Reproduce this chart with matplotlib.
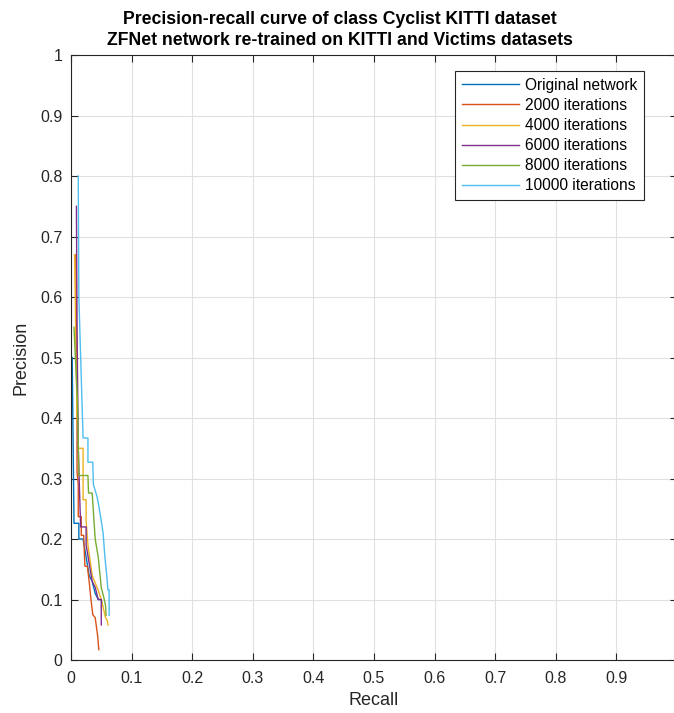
import matplotlib
matplotlib.use("Agg")
import matplotlib.pyplot as plt

plt.rcParams['font.family'] = ['Liberation Sans', 'DejaVu Sans']

# Recall / precision vertices
orig_r = [0.002, 0.005, 0.013, 0.013, 0.020, 0.025, 0.030, 0.035, 0.040, 0.045, 0.050, 0.052]
orig_p = [0.50, 0.226, 0.226, 0.20, 0.20, 0.17, 0.14, 0.13, 0.11, 0.10, 0.10, 0.09]

it2000_r = [0.008, 0.010, 0.010, 0.012, 0.012, 0.017, 0.017, 0.021, 0.022, 0.023, 0.027,
            0.030, 0.033, 0.036, 0.040, 0.044, 0.046]
it2000_p = [0.67, 0.45, 0.31, 0.29, 0.237, 0.237, 0.206, 0.206, 0.178, 0.155, 0.155,
            0.13, 0.10, 0.075, 0.07, 0.04, 0.017]

it4000_r = [0.006, 0.010, 0.012, 0.020, 0.020, 0.025, 0.025, 0.028, 0.035, 0.045, 0.050,
            0.057, 0.060, 0.061]
it4000_p = [0.67, 0.40, 0.35, 0.35, 0.265, 0.265, 0.23, 0.19, 0.14, 0.115, 0.10,
            0.07, 0.065, 0.058]

it6000_r = [0.009, 0.010, 0.012, 0.015, 0.016, 0.025, 0.025, 0.030, 0.035, 0.040, 0.045,
            0.050, 0.050]
it6000_p = [0.75, 0.55, 0.35, 0.25, 0.22, 0.22, 0.19, 0.16, 0.13, 0.12, 0.10,
            0.10, 0.058]

it8000_r = [0.005, 0.011, 0.013, 0.028, 0.029, 0.035, 0.038, 0.040, 0.045, 0.050, 0.055,
            0.057, 0.058]
it8000_p = [0.55, 0.42, 0.305, 0.305, 0.276, 0.276, 0.23, 0.20, 0.17, 0.12, 0.10,
            0.09, 0.074]

it10000_r = [0.012, 0.013, 0.020, 0.028, 0.028, 0.036, 0.037, 0.043, 0.045, 0.050, 0.053,
             0.056, 0.059, 0.061, 0.063, 0.063]
it10000_p = [0.80, 0.60, 0.367, 0.367, 0.327, 0.327, 0.29, 0.27, 0.26, 0.23, 0.21,
             0.17, 0.14, 0.116, 0.116, 0.074]

labels = ['Original network', '2000 iterations', '4000 iterations',
          '6000 iterations', '8000 iterations', '10000 iterations']

# MATLAB default colour order
colors = ['#0072BD', '#D95319', '#EDB120', '#7E2F8E', '#77AC30', '#4DBEEE']

fig = plt.figure(figsize=(6.74, 7.13), dpi=100)
# axes runs slightly past the right edge, as in the cropped original
ax = fig.add_axes([0.1053, 0.0743, 0.899, 0.8485])

series = [(orig_r, orig_p), (it2000_r, it2000_p), (it4000_r, it4000_p),
          (it6000_r, it6000_p), (it8000_r, it8000_p), (it10000_r, it10000_p)]
for (r, p), lab, c in zip(series, labels, colors):
    ax.plot(r, p, color=c, linewidth=1.0, label=lab)

ax.set_xlim(0, 1)
ax.set_ylim(0, 1)
ticks = [i / 10 for i in range(11)]
ax.set_xticks(ticks)
ax.set_yticks(ticks)
ax.set_xticklabels(['0'] + ['%.1f' % t for t in ticks[1:-1]] + ['1'])
ax.set_yticklabels(['0'] + ['%.1f' % t for t in ticks[1:-1]] + ['1'])
ax.tick_params(direction='in', top=True, right=True, labelsize=11.5, length=5,
               colors='#262626')
ax.tick_params(axis='x', pad=8)
ax.tick_params(axis='y', pad=6)
ax.grid(True, color='#e0e0e0', linewidth=0.8)
ax.set_axisbelow(True)
for s in ax.spines.values():
    s.set_color('#262626')
    s.set_linewidth(0.8)

ax.set_xlabel('Recall', fontsize=13, color='#262626', labelpad=4)
ax.set_ylabel('Precision', fontsize=13, color='#262626', labelpad=8)
ax.set_title('Precision-recall curve of class Cyclist KITTI dataset\n'
             'ZFNet network re-trained on KITTI and Victims datasets',
             fontsize=12.7, fontweight='bold', pad=7, linespacing=1.3,
             x=0.444)

leg = ax.legend(loc='upper right', bbox_to_anchor=(0.946, 0.974), fontsize=11.2,
                handlelength=3.7, handletextpad=0.35, borderpad=0.45,
                labelspacing=0.33, borderaxespad=0,
                fancybox=False, framealpha=1, edgecolor='#262626')
leg.get_frame().set_linewidth(0.8)

fig.savefig('out.png', dpi=100)
